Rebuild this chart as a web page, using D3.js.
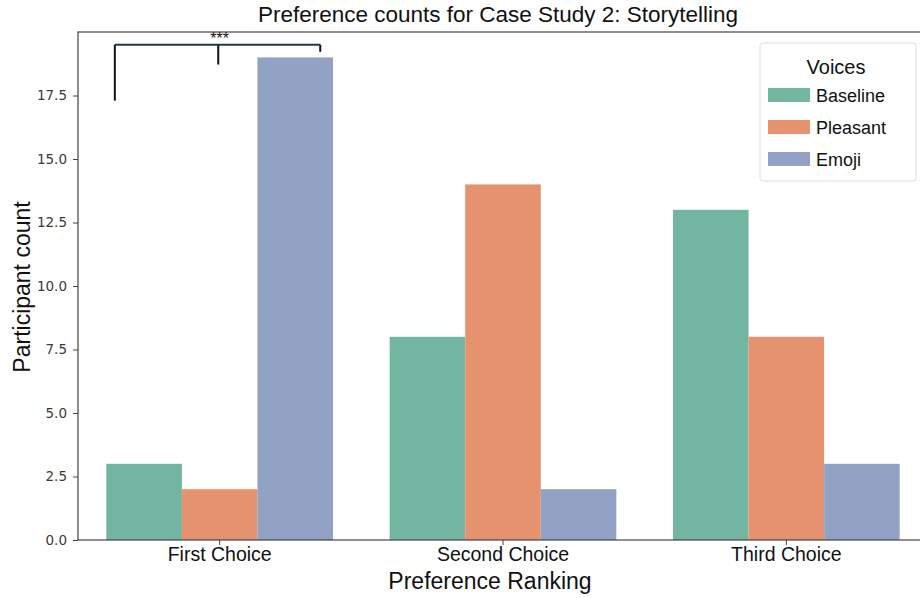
<!DOCTYPE html>
<html>
<head>
<meta charset="utf-8">
<script src="https://cdn.jsdelivr.net/npm/d3@7"></script>
<style>
  body { margin: 0; background: #fff; }
  text { font-family: "Liberation Sans", Arial, sans-serif; }
</style>
</head>
<body>
<svg width="920" height="598"></svg>
<script>
var choices = ["First Choice", "Second Choice", "Third Choice"];
var voices = ["Baseline", "Pleasant", "Emoji"];
var baseline = [3, 8, 13];
var pleasant = [2, 14, 8];
var emoji = [19, 2, 3];
var yTicks = [0, 2.5, 5, 7.5, 10, 12.5, 15, 17.5];
var colors = ["#72b5a0", "#e6926e", "#92a2c4"];

var svg = d3.select("svg");
var plotL = 78, plotR = 928, plotT = 32, plotB = 540;

var x = d3.scaleBand().domain(choices).range([plotL, plotR]).paddingInner(0).paddingOuter(0);
var x1 = d3.scaleBand().domain(voices).range([0, x.bandwidth() * 0.8]);
var y = d3.scaleLinear().domain([0, 20]).range([plotB, plotT]);

var series = [baseline, pleasant, emoji];
var rows = [];
choices.forEach(function(c, i) {
  voices.forEach(function(v, j) {
    rows.push({choice: c, voice: v, value: series[j][i], k: j});
  });
});

svg.append("g").selectAll("rect")
  .data(rows).enter().append("rect")
    .attr("x", function(d) { return x(d.choice) + x.bandwidth() * 0.1 + x1(d.voice); })
    .attr("y", function(d) { return y(d.value); })
    .attr("width", x1.bandwidth())
    .attr("height", function(d) { return plotB - y(d.value); })
    .attr("fill", function(d) { return colors[d.k]; });

// frame
svg.append("rect")
  .attr("x", plotL).attr("y", plotT)
  .attr("width", plotR - plotL).attr("height", plotB - plotT)
  .attr("fill", "none").attr("stroke", "#444").attr("stroke-width", 1.2);

var yAxis = svg.append("g")
  .attr("transform", "translate(" + plotL + ",0)")
  .call(d3.axisLeft(y).tickValues(yTicks).tickFormat(d3.format(".1f")).tickSize(5).tickPadding(6));
yAxis.select(".domain").remove();
yAxis.selectAll("line").attr("stroke", "#444");
yAxis.selectAll("text").attr("fill", "#3a3a3a").style("font-family", "DejaVu Sans, sans-serif").style("font-size", "13.5px");

var xAxis = svg.append("g")
  .attr("transform", "translate(0," + plotB + ")")
  .call(d3.axisBottom(x).tickSize(5).tickPadding(2));
xAxis.select(".domain").remove();
xAxis.selectAll("line").attr("stroke", "#444");
xAxis.selectAll("text").attr("fill", "#111").style("font-size", "19.5px");

// significance bracket
var bx = x("First Choice");
var bw = x.bandwidth();
var br = svg.append("g").attr("stroke", "#111").attr("stroke-width", 2).attr("fill", "none");
br.append("line").attr("x1", bx + bw * 0.13).attr("x2", bx + bw * 0.13).attr("y1", y(19.5)).attr("y2", y(17.3));
br.append("line").attr("x1", bx + bw * 0.495).attr("x2", bx + bw * 0.495).attr("y1", y(19.5)).attr("y2", y(18.72));
br.append("line").attr("x1", bx + bw * 0.855).attr("x2", bx + bw * 0.855).attr("y1", y(19.5)).attr("y2", y(19.22));
br.append("line").attr("x1", bx + bw * 0.13).attr("x2", bx + bw * 0.855).attr("y1", y(19.5)).attr("y2", y(19.5)).attr("stroke", "#1d3b3f");
svg.append("text").attr("x", bx + bw * 0.5).attr("y", y(19.5) - 1)
  .attr("text-anchor", "middle").style("font-size", "16px").attr("fill", "#111").text("***");

// titles
svg.append("text").attr("x", 498).attr("y", 22).attr("text-anchor", "middle")
  .style("font-size", "22.5px").attr("fill", "#111").text("Preference counts for Case Study 2: Storytelling");
svg.append("text").attr("x", 490).attr("y", 589).attr("text-anchor", "middle")
  .style("font-size", "23px").attr("fill", "#111").text("Preference Ranking");
svg.append("text").attr("transform", "translate(30,287) rotate(-90)").attr("text-anchor", "middle")
  .style("font-size", "23px").attr("fill", "#111").text("Participant count");

// legend
var lg = svg.append("g");
lg.append("rect").attr("x", 760).attr("y", 43).attr("width", 156).attr("height", 138).attr("rx", 3)
  .attr("fill", "#fff").attr("stroke", "#ddd");
lg.append("text").attr("x", 836).attr("y", 74).attr("text-anchor", "middle")
  .style("font-size", "20px").attr("fill", "#111").text("Voices");
voices.forEach(function(v, i) {
  lg.append("rect").attr("x", 768).attr("y", 88 + i * 32).attr("width", 42).attr("height", 14).attr("fill", colors[i]);
  lg.append("text").attr("x", 816).attr("y", 102 + i * 32)
    .style("font-size", "18px").attr("fill", "#111").text(v);
});
</script>
</body>
</html>
